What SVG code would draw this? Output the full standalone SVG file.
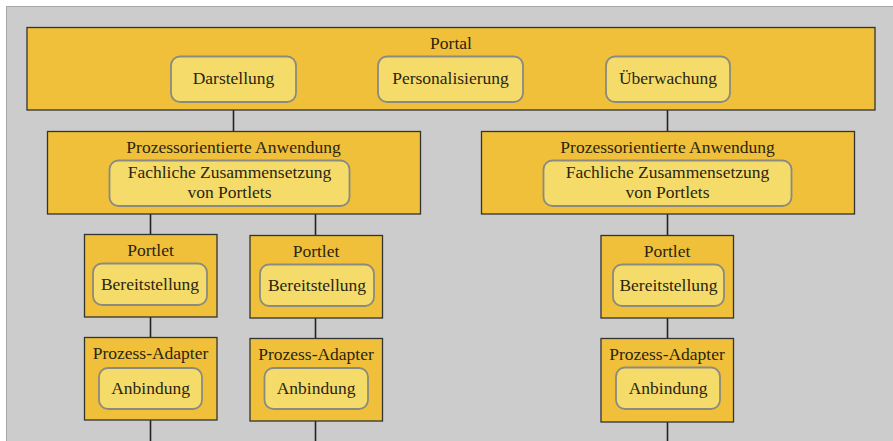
<svg xmlns="http://www.w3.org/2000/svg" width="893" height="441" viewBox="0 0 893 441">
  <style>
    .outer { fill: #f0c03a; stroke: #333; stroke-width: 1.3; }
    .inner { fill: #f5dc6a; stroke: #8a8a80; stroke-width: 1.8; }
    text { font-family: "Liberation Serif", "DejaVu Serif", serif; font-size: 17.5px; fill: #2b2510; text-anchor: middle; }
    .wire { stroke: #222; stroke-width: 1.6; fill: none; }
  </style>
  <rect x="0" y="0" width="893" height="441" fill="#ffffff"/>
  <rect x="6.5" y="6.5" width="900" height="450" fill="#cccccc" stroke="#a8a8a8" stroke-width="1"/>

  <g id="connectors">
    <line class="wire" x1="233.5" y1="110" x2="233.5" y2="131"/>
    <line class="wire" x1="667.5" y1="110" x2="667.5" y2="131"/>
    <line class="wire" x1="150.5" y1="214" x2="150.5" y2="234"/>
    <line class="wire" x1="315.5" y1="214" x2="315.5" y2="235"/>
    <line class="wire" x1="667.5" y1="214" x2="667.5" y2="235"/>
    <line class="wire" x1="150.5" y1="317" x2="150.5" y2="337"/>
    <line class="wire" x1="315.5" y1="318" x2="315.5" y2="338"/>
    <line class="wire" x1="667.5" y1="318" x2="667.5" y2="338"/>
    <line class="wire" x1="150.5" y1="420" x2="150.5" y2="441"/>
    <line class="wire" x1="315.5" y1="421" x2="315.5" y2="441"/>
    <line class="wire" x1="667.5" y1="422" x2="667.5" y2="441"/>
  </g>

  <g id="portal">
    <rect class="outer" x="27" y="27.5" width="848" height="82.5"/>
    <text x="451" y="49">Portal</text>
    <rect class="inner" x="171" y="56.5" width="125" height="45.5" rx="9"/>
    <text x="233.5" y="84">Darstellung</text>
    <rect class="inner" x="378" y="56.5" width="145" height="45.5" rx="9"/>
    <text x="450.5" y="84">Personalisierung</text>
    <rect class="inner" x="606" y="56.5" width="124" height="45.5" rx="9"/>
    <text x="668" y="84">Überwachung</text>
  </g>

  <g id="app-left">
    <rect class="outer" x="47.5" y="131.5" width="373" height="82.5"/>
    <text x="233.5" y="153">Prozessorientierte Anwendung</text>
    <rect class="inner" x="109.5" y="160.5" width="240" height="45.5" rx="9"/>
    <text x="229.5" y="178">Fachliche Zusammensetzung</text>
    <text x="229.5" y="198">von Portlets</text>
  </g>

  <g id="app-right">
    <rect class="outer" x="481.5" y="131.5" width="373" height="82.5"/>
    <text x="667.5" y="153">Prozessorientierte Anwendung</text>
    <rect class="inner" x="543.5" y="160.5" width="248" height="45.5" rx="9"/>
    <text x="667.5" y="178">Fachliche Zusammensetzung</text>
    <text x="667.5" y="198">von Portlets</text>
  </g>

  <g id="portlet-1">
    <rect class="outer" x="84.5" y="234.5" width="132.5" height="82.5"/>
    <text x="150.5" y="256">Portlet</text>
    <rect class="inner" x="93" y="263.5" width="114" height="41.5" rx="9"/>
    <text x="150" y="290">Bereitstellung</text>
  </g>

  <g id="portlet-2">
    <rect class="outer" x="250" y="235.5" width="132.5" height="82.5"/>
    <text x="316" y="257">Portlet</text>
    <rect class="inner" x="260" y="264.5" width="114" height="41.5" rx="9"/>
    <text x="317" y="291">Bereitstellung</text>
  </g>

  <g id="portlet-3">
    <rect class="outer" x="601" y="235.5" width="132.5" height="82.5"/>
    <text x="667" y="257">Portlet</text>
    <rect class="inner" x="613" y="264.5" width="111" height="41.5" rx="9"/>
    <text x="668.5" y="291">Bereitstellung</text>
  </g>

  <g id="adapter-1">
    <rect class="outer" x="84.5" y="337.5" width="132.5" height="82.5"/>
    <text x="150.5" y="359">Prozess-Adapter</text>
    <rect class="inner" x="99" y="368" width="103" height="41" rx="9"/>
    <text x="150.5" y="394">Anbindung</text>
  </g>

  <g id="adapter-2">
    <rect class="outer" x="250" y="338.5" width="132.5" height="82.5"/>
    <text x="316" y="360">Prozess-Adapter</text>
    <rect class="inner" x="264.5" y="368" width="103.5" height="41" rx="9"/>
    <text x="316" y="394">Anbindung</text>
  </g>

  <g id="adapter-3">
    <rect class="outer" x="601" y="338.5" width="132.5" height="83.5"/>
    <text x="667" y="360">Prozess-Adapter</text>
    <rect class="inner" x="616" y="367.5" width="104" height="41.5" rx="9"/>
    <text x="668" y="394">Anbindung</text>
  </g>
</svg>
